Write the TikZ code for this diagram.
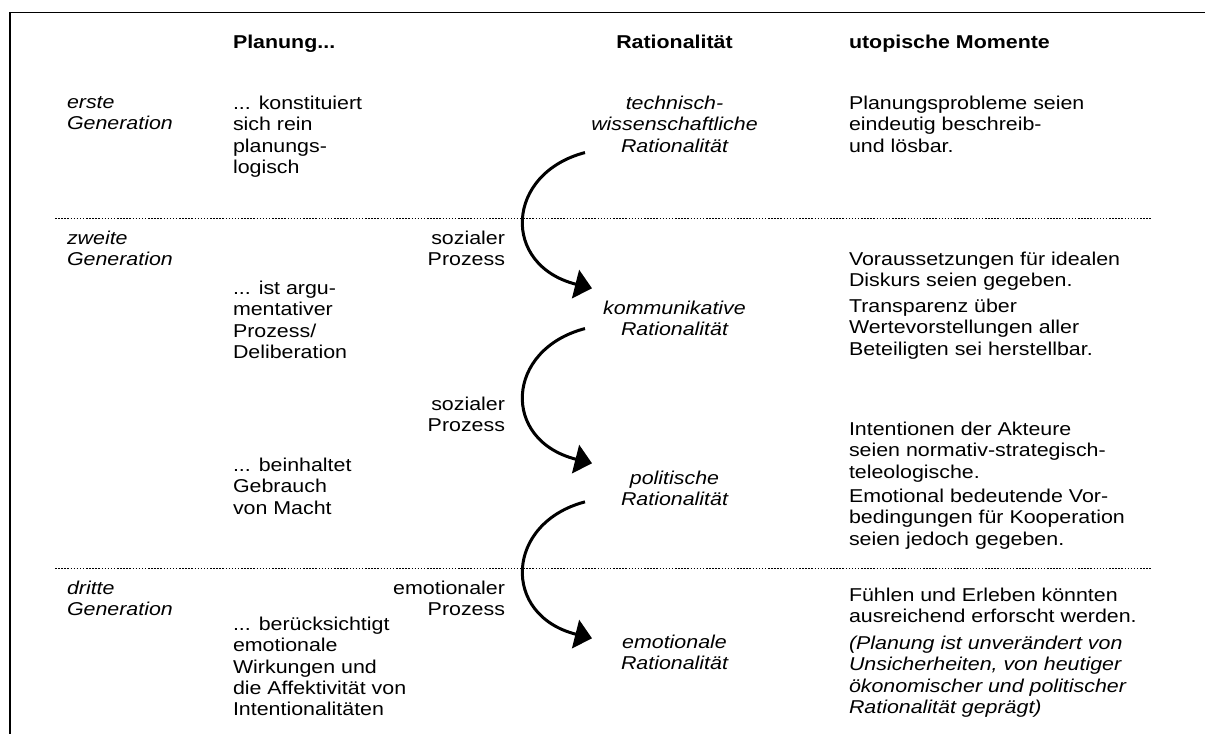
\documentclass[tikz,border=0pt]{standalone}
\usepackage{fontspec}
\setmainfont{Liberation Sans}[FakeStretch=1.15]
\usetikzlibrary{arrows.meta,calc}
\begin{document}
\begin{tikzpicture}[x=1pt,y=-1pt,
  txtbase/.style={inner sep=0pt, outer sep=0pt, yshift=14.91pt,
    execute at begin node=\strut, execute at end node=\strut},
  lt/.style={txtbase, anchor=north west, align=left, font=\fontsize{18.6}{21.3}\selectfont},
  lti/.style={txtbase, anchor=north west, align=left, font=\fontsize{18.6}{21.3}\selectfont\itshape},
  rt/.style={txtbase, anchor=north east, align=right, font=\fontsize{18.6}{21.3}\selectfont},
  cti/.style={txtbase, anchor=north, align=center, font=\fontsize{18.6}{21.3}\selectfont\itshape},
  hd/.style={txtbase, anchor=north west, font=\fontsize{18.6}{21.3}\selectfont\bfseries},
  hdc/.style={txtbase, anchor=north, font=\fontsize{18.6}{21.3}\selectfont\bfseries},
  gensep/.style={line width=1.6pt, dash pattern=on 1.5pt off 1.6pt},
  frameline/.style={line width=1.6pt},
  procarrow/.style={line width=3pt, -{Triangle[length=17pt,width=29pt]}}
]
\useasboundingbox (0,0) rectangle (1205,734);
% frame
\draw[frameline] (1205,12.5) -- (9.7,12.5) -- (9.7,734);
% separators
\draw[gensep] (55,218.5) -- (1152,218.5);
\draw[gensep] (55,568.5) -- (1152,568.5);
% headers
\node[hd] (hplan) at (233,48) {Planung...};
\node[hdc] (hrat) at (674.5,48) {Rationalität};
\node[hd] (hutop) at (849,48) {utopische Momente};
% generations
\node[lti] (g1) at (67,111) {erste\\Generation};
\node[lti] (g2) at (67,245.5) {zweite\\Generation};
\node[lti] (g3) at (67,596) {dritte\\Generation};
% Planung column
\node[lt] (p1) at (233,111) {... konstituiert\\sich rein\\planungs-\\logisch};
\node[lt] (p2) at (233,296) {... ist argu-\\mentativer\\Prozess/\\Deliberation};
\node[lt] (p3) at (233,473) {... beinhaltet\\Gebrauch\\von Macht};
\node[lt] (p4) at (233,632) {... berücksichtigt\\emotionale\\Wirkungen und\\die Affektivität von\\Intentionalitäten};
% process labels
\node[rt] (s1) at (505,245.5) {sozialer\\Prozess};
\node[rt] (s2) at (505,411.5) {sozialer\\Prozess};
\node[rt] (s3) at (505,596) {emotionaler\\Prozess};
% rationality column
\node[cti] (r1) at (674.5,111) {technisch-\\wissenschaftliche\\Rationalität};
\node[cti] (r2) at (674.5,316) {kommunikative\\Rationalität};
\node[cti] (r3) at (674.5,485.5) {politische\\Rationalität};
\node[cti] (r4) at (674.5,650) {emotionale\\Rationalität};
% utopian moments
\node[lt] (u1) at (849,111) {Planungsprobleme seien\\eindeutig beschreib-\\und lösbar.};
\node[lt] (u2) at (849,267) {Voraussetzungen für idealen\\Diskurs seien gegeben.};
\node[lt] (u3) at (849,314) {Transparenz über\\Wertevorstellungen aller\\Beteiligten sei herstellbar.};
\node[lt] (u4) at (849,437) {Intentionen der Akteure\\seien normativ-strategisch-\\teleologische.};
\node[lt] (u5) at (849,504) {Emotional bedeutende Vor-\\bedingungen für Kooperation\\seien jedoch gegeben.};
\node[lt] (u6) at (849,603) {Fühlen und Erleben könnten\\ausreichend erforscht werden.};
\node[lti] (u7) at (849,651) {(Planung ist unverändert von\\Unsicherheiten, von heutiger\\ökonomischer und politischer\\Rationalität geprägt)};
% arrows
\draw[procarrow] ([shift={(-6.3,-6)}]r1.south west) .. controls +(-80,21) and +(-91,-23) .. ([shift={(-11.2,-12.8)}]r2.north west);
\draw[procarrow] ([shift={(-18.2,-13.7)}]r2.south west) .. controls +(-80,21) and +(-91,-23) .. ([shift={(-29,-7.3)}]r3.north west);
\draw[procarrow] ([shift={(-36,-9.9)}]r3.south west) .. controls +(-80,21) and +(-91,-23) .. ([shift={(-29,3.2)}]r4.north west);
\end{tikzpicture}
\end{document}
